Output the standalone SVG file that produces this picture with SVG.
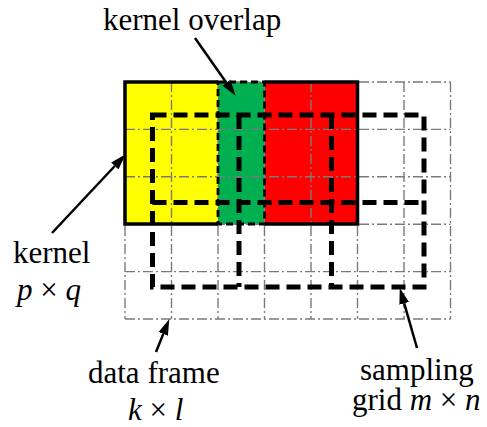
<svg xmlns="http://www.w3.org/2000/svg" width="487" height="427" viewBox="0 0 487 427">
<style>
.grid{stroke:#7a7a7a;stroke-width:1.4;stroke-dasharray:10 3 2 3;fill:none}
.kb{stroke:#000;stroke-width:3.5;fill:none}
.kd{stroke:#000;stroke-width:2.8;stroke-dasharray:7 4;fill:none}
.sg{stroke:#000;stroke-width:5;stroke-dasharray:14 7;fill:none}
.lbl{font-family:"Liberation Serif","Times New Roman",serif;font-size:31px;fill:#000}
.it{font-style:italic}
.arr{stroke:#000;stroke-width:2.5;fill:none;marker-end:url(#ah)}
</style>
<defs>
<marker id="ah" viewBox="0 0 16 10" refX="0" refY="5" markerWidth="16" markerHeight="10" markerUnits="userSpaceOnUse" orient="auto"><path d="M0,0 L16,5 L0,10 z" fill="#000"/></marker>
</defs>
<rect width="487" height="427" fill="#fff"/>
<g id="kernel-fills">
<rect x="125" y="82" width="93" height="142" fill="#ffff00"/>
<rect x="218" y="82" width="46.5" height="142" fill="#00b050"/>
<rect x="264.5" y="82" width="93" height="142" fill="#ff0000"/>
</g>
<g id="data-frame">
<path class="grid" d="M125,82V319M171.5,82V319M218,82V319M264.5,82V319M311,82V319M357.5,82V319M404,82V319M450.5,82V319"/>
<path class="grid" d="M125,82H450.5M125,129.4H450.5M125,176.8H450.5M125,224.2H450.5M125,271.6H450.5M125,319H450.5"/>
</g>
<g id="kernel">
<path class="kb" d="M218,82H125V224H218M264.5,82H357.5V224H264.5"/>
<rect class="kd" x="218" y="82" width="46.5" height="142"/>
</g>
<g id="sampling-grid">
<path class="sg" d="M152.5,115H424V287H152.5Z"/>
<path class="sg" d="M239,115V287M331.5,115V287M152.5,202.5H424"/>
</g>
<g id="connectors">
<line class="arr" x1="195" y1="38" x2="226.4" y2="82.7"/>
<line class="arr" x1="52" y1="233" x2="114.8" y2="166"/>
<line class="arr" x1="156" y1="352" x2="163.3" y2="333.9"/>
<line class="arr" x1="417" y1="348" x2="404.2" y2="303.4"/>
</g>
<g id="label-kernel-overlap"><text class="lbl" x="103" y="30">kernel overlap</text></g>
<g id="label-kernel"><text class="lbl" x="13" y="263">kernel</text><text class="lbl" x="17" y="300"><tspan class="it">p</tspan> × <tspan class="it">q</tspan></text></g>
<g id="label-data-frame"><text class="lbl" x="88" y="383">data frame</text><text class="lbl" x="128" y="420"><tspan class="it">k</tspan> × <tspan class="it">l</tspan></text></g>
<g id="label-sampling-grid"><text class="lbl" x="360" y="380">sampling</text><text class="lbl" x="352" y="410">grid <tspan class="it">m</tspan> × <tspan class="it">n</tspan></text></g>
</svg>
